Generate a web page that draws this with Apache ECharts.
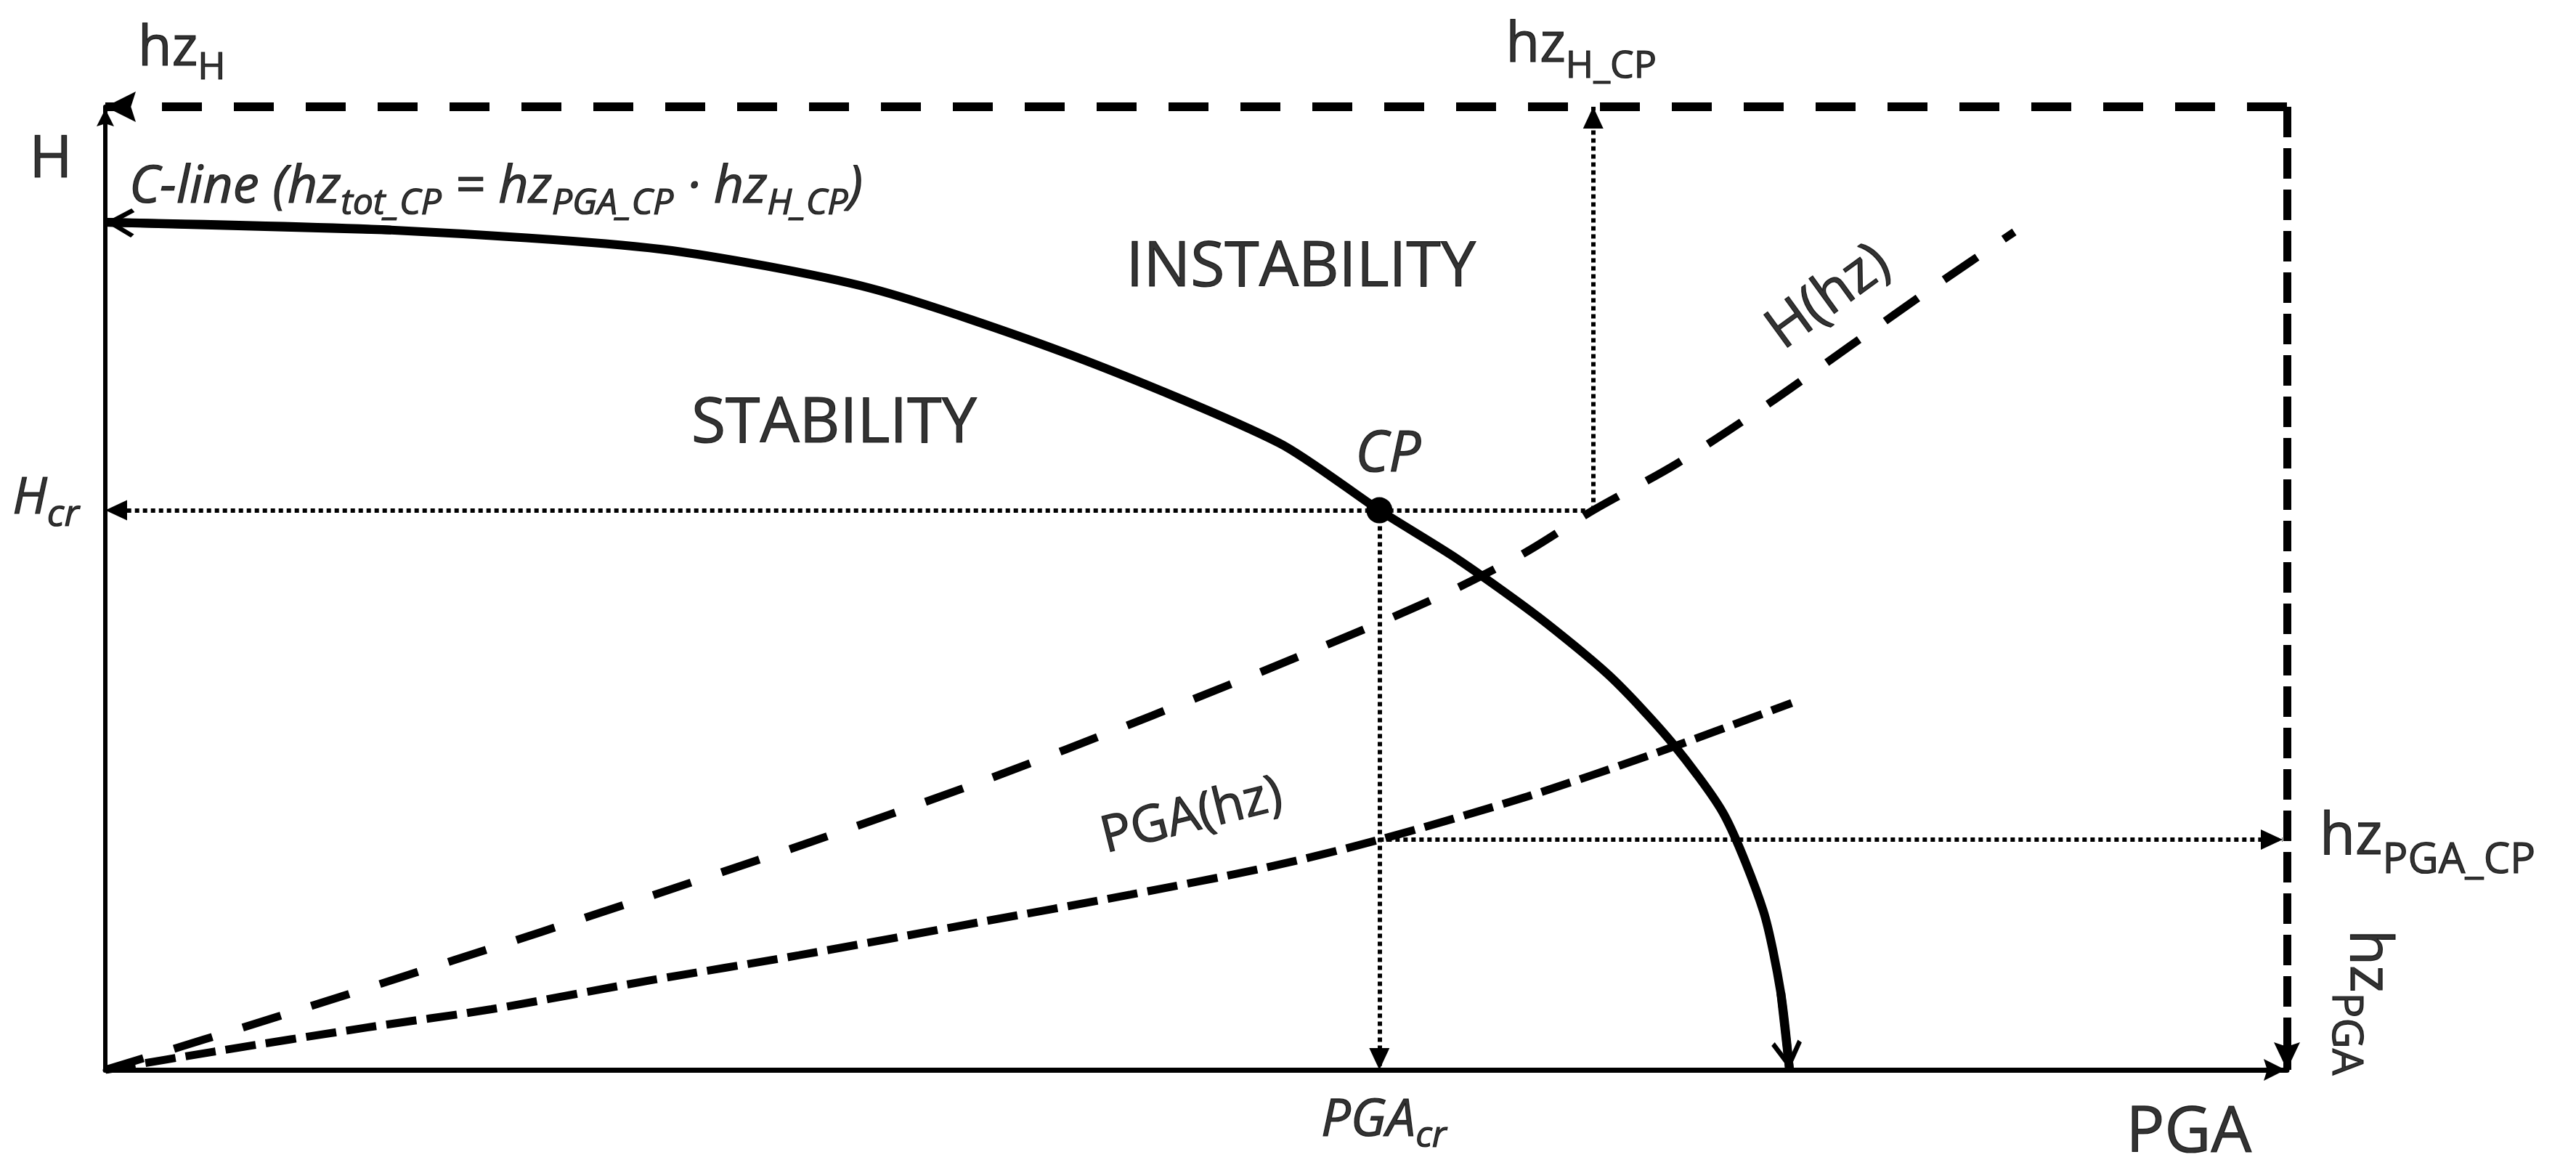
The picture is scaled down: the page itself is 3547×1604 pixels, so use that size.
<!DOCTYPE html>
<html>
<head>
<meta charset="utf-8">
<title>C-line diagram</title>
<script src="https://cdn.jsdelivr.net/npm/echarts@6/dist/echarts.min.js"></script>
<style>
  html, body { margin: 0; padding: 0; background: #fff; }
  #chart { width: 3547px; height: 1604px; }
</style>
</head>
<body>
<div id="chart"></div>
<script>
// curves, in % of the PGA (x) and H (y) ranges
const cLine = [[0, 88.0], [13.1, 87.2], [25.5, 85.2], [35.0, 81.2], [44.4, 74.1], [53.8, 65.1],
  [58.4, 58.1], [62.0, 53.0], [65.7, 47.0], [69.0, 40.8], [71.8, 34.0], [74.2, 26.5],
  [76.0, 16.5], [76.8, 8.0], [77.2, 0]];
const hCurve = [[0, 0], [8, 5.6], [16, 11.4], [24, 17.3], [32, 23.4], [40, 29.8], [48, 36.8],
  [55, 43.2], [61, 49.0], [65, 53.6], [68.2, 58.1], [72, 62.9], [76, 68.8], [80, 75.2],
  [84, 81.6], [87.5, 87.0]];
const pgaCurve = [[0, 0], [5, 1.9], [12, 4.4], [17.7, 6.3], [25, 9.3], [31.8, 11.9], [40, 15.3],
  [47, 18.2], [53.2, 21.0], [58.4, 23.9], [65.2, 28.4], [71.2, 33.0], [77.3, 38.1]];
const criticalPoint = [58.4, 58.1];   // CP = (PGA_cr, H_cr)
const hzHcpPga = 68.2;                // PGA at which H(hz) reaches H_cr
const hzPgaCpLevel = 23.9;            // PGA(hz) at PGA_cr
const axisRange = [0, 100];

const labelTexts = [
  '{m|hz}{s|H}',
  '{m|H}',
  '{m|hz}{s|H_CP}',
  '{m|C-line (hz}{s|tot_CP}{m| = hz}{s|PGA_CP}{m| · hz}{s|H_CP}{m|)}',
  '{m|INSTABILITY}',
  '{m|STABILITY}',
  '{m|CP}',
  '{m|H}{s|cr}',
  '{m|PGA}{s|cr}',
  '{m|PGA}',
  '{m|hz}{s|PGA_CP}',
  '{m|hz}{s|PGA}',
  '{m|H(hz)}',
  '{m|PGA(hz)}'
];
const labelAnchors = [
  [1.5, 105.9], [-2.5, 94.4], [64.2, 106.3], [1.1, 91.6], [54.8, 83.2], [33.4, 67.0],
  [58.8, 63.8], [-1.2, 59.3], [58.6, -5.3], [95.5, -6.6], [101.5, 24.1], [103.7, 7.0],
  [79.0, 80.2], [49.8, 26.3]
];

const INK = '#000';
const FONT = "'Open Sans', 'Noto Sans', sans-serif";

// main text + subscript, drop = how far the subscript baseline sits below the main one
function richPair(main, small, italic, drop) {
  const st = italic ? 'italic' : 'normal';
  const base = { fontStyle: st, fontFamily: FONT, color: INK, textBorderColor: INK, textBorderWidth: 1.2 };
  return {
    m: Object.assign({ fontSize: main }, base),
    s: Object.assign({
      fontSize: small,
      padding: [Math.max(0, 2 * (0.3 * main + drop - 0.3 * small)), 0, 0, 0]
    }, base)
  };
}

const labelLooks = [
  { rich: richPair(76, 52, false, 18), align: 'left' },    // hz_H
  { rich: richPair(80, 52, false, 0), align: 'center' },   // H
  { rich: richPair(76, 52, false, 22), align: 'left' },    // hz_H_CP
  { rich: richPair(72, 50, true, 16), align: 'left' },     // C-line
  { rich: richPair(86, 60, false, 0), align: 'center' },   // INSTABILITY
  { rich: richPair(86, 60, false, 0), align: 'center' },   // STABILITY
  { rich: richPair(78, 54, true, 0), align: 'center' },    // CP
  { rich: richPair(70, 52, true, 17), align: 'right' },    // H_cr
  { rich: richPair(72, 50, true, 15), align: 'center' },   // PGA_cr
  { rich: richPair(88, 60, false, 0), align: 'center' },   // PGA
  { rich: richPair(80, 58, false, 25), align: 'left' },    // hz_PGA_CP
  { rich: richPair(80, 58, false, 25), align: 'center', rotate: -90 }, // hz_PGA
  { rich: richPair(78, 54, false, 0), align: 'center', rotate: 36 },   // H(hz)
  { rich: richPair(70, 48, false, 0), align: 'center', rotate: 14 }    // PGA(hz)
];

const chevron = 'path://M50,0 L100,82 L88,92 L50,30 L12,92 L0,82 Z';
const solidHead = 'path://M50,0 L100,100 L50,84 L0,100 Z';

// arrowed segment for markLine, head tip placed on the end point
function arrowLine(from, to, lineStyle, head, headSize) {
  return [
    { coord: from, symbol: 'none' },
    { coord: to, symbol: head, symbolSize: headSize, symbolOffset: [0, '50%'], lineStyle: lineStyle }
  ];
}

const dotted = { color: '#000', type: [6, 5], width: 6, cap: 'butt' };
const thick = { color: '#000', type: 'solid', width: 12 };

const chart = echarts.init(document.getElementById('chart'));

const option = {
  animation: false,
  backgroundColor: '#fff',
  grid: { left: 145, right: 398, top: 147, bottom: 131, containLabel: false },
  xAxis: {
    type: 'value', min: axisRange[0], max: axisRange[1],
    axisLine: {
      show: true, onZero: false,
      symbol: ['none', solidHead], symbolSize: [30, 34], symbolOffset: [0, -17],
      lineStyle: { color: '#000', width: 7 }
    },
    axisTick: { show: false }, axisLabel: { show: false }, splitLine: { show: false }
  },
  yAxis: {
    type: 'value', min: axisRange[0], max: axisRange[1],
    axisLine: {
      show: true, onZero: false,
      symbol: ['none', solidHead], symbolSize: [24, 30], symbolOffset: [0, -15],
      lineStyle: { color: '#000', width: 6 }
    },
    axisTick: { show: false }, axisLabel: { show: false }, splitLine: { show: false }
  },
  series: [
    {
      name: 'guides', type: 'line', data: [], silent: true,
      markLine: {
        silent: true, animation: false, label: { show: false }, emphasis: { disabled: true },
        data: [
          arrowLine([axisRange[1], axisRange[1]], [0, axisRange[1]],
            { color: '#000', type: [55, 44], width: 12 }, solidHead, [42, 42]),
          arrowLine([axisRange[1], axisRange[1]], [axisRange[1], 0],
            { color: '#000', type: [42, 15], width: 11 }, solidHead, [36, 38]),
          arrowLine([hzHcpPga, criticalPoint[1]], [0, criticalPoint[1]], dotted, 'triangle', [28, 30]),
          arrowLine([hzHcpPga, criticalPoint[1]], [hzHcpPga, axisRange[1]], dotted, 'triangle', [28, 30]),
          arrowLine(criticalPoint, [criticalPoint[0], 0], dotted, 'triangle', [28, 30]),
          arrowLine([criticalPoint[0], hzPgaCpLevel], [99.8, hzPgaCpLevel], dotted, 'triangle', [28, 30])
        ]
      }
    },
    {
      name: 'H(hz)', type: 'line', data: hCurve, smooth: 0.3, symbol: 'none', silent: true,
      lineStyle: { color: '#000', width: 11, type: [55, 44], cap: 'butt' }
    },
    {
      name: 'PGA(hz)', type: 'line', data: pgaCurve, smooth: 0.3, symbol: 'none', silent: true,
      lineStyle: { color: '#000', width: 11, type: [42, 14], cap: 'butt' }
    },
    {
      name: 'C-line', type: 'line', data: cLine, smooth: 0.25, symbol: 'none', silent: true,
      lineStyle: { color: '#000', width: 12 },
      markLine: {
        silent: true, animation: false, label: { show: false }, emphasis: { disabled: true },
        data: [
          arrowLine(cLine[1], cLine[0], thick, chevron, [40, 40]),
          arrowLine(cLine[cLine.length - 2], cLine[cLine.length - 1], thick, chevron, [42, 40])
        ]
      }
    },
    {
      name: 'CP', type: 'scatter', data: [criticalPoint], symbolSize: 36, silent: true,
      itemStyle: { color: '#000', opacity: 1 }
    },
    {
      name: 'labels', type: 'scatter', symbolSize: 0, silent: true, clip: false,
      data: labelAnchors.map((p, i) => ({
        value: p,
        label: {
          show: true, position: 'inside', formatter: labelTexts[i],
          align: labelLooks[i].align, verticalAlign: 'middle',
          rotate: labelLooks[i].rotate || 0, rich: labelLooks[i].rich
        }
      }))
    }
  ]
};

chart.setOption(option);
window.addEventListener('resize', () => chart.resize());
</script>
</body>
</html>
